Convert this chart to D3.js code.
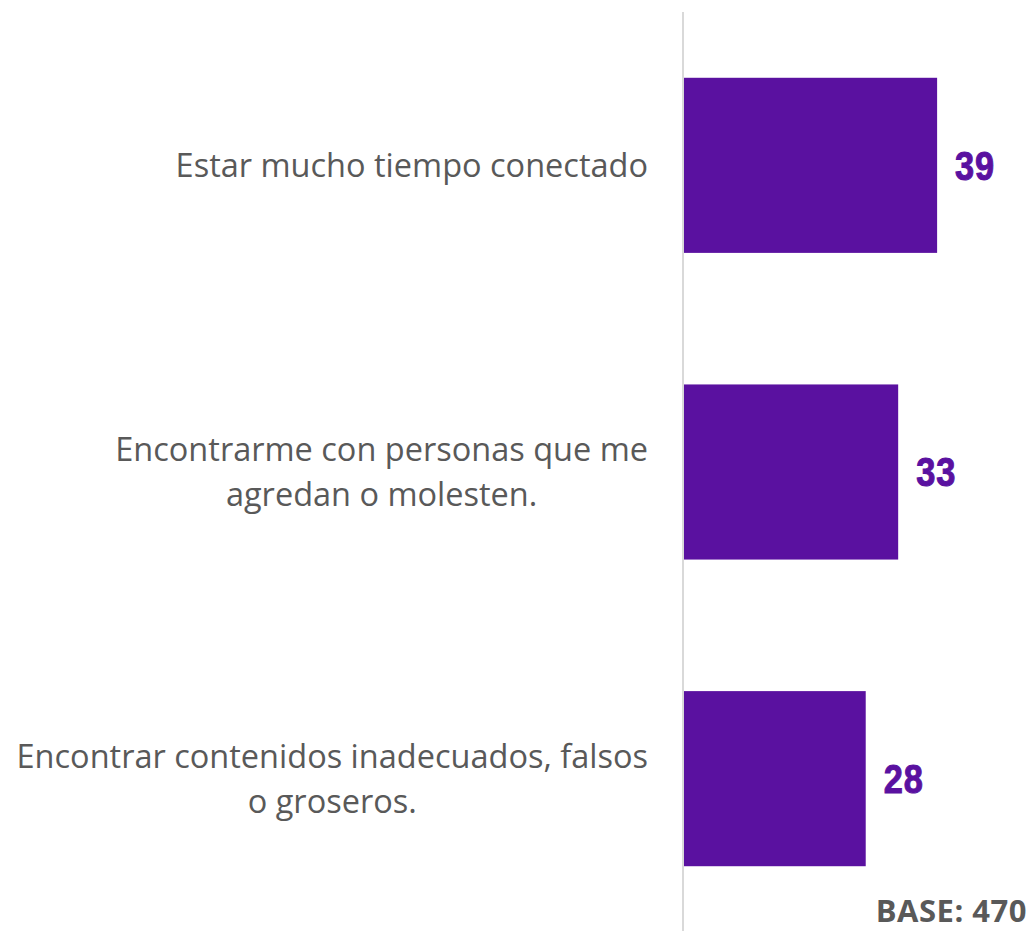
<!DOCTYPE html>
<html>
<head>
<meta charset="utf-8">
<script src="https://cdn.jsdelivr.net/npm/d3@7"></script>
<style>
  html, body { margin: 0; padding: 0; background: #ffffff; }
  svg { display: block; }
</style>
</head>
<body>
<svg id="chart" width="1031" height="931"></svg>
<script>
const categories = [
  "Estar mucho tiempo conectado",
  "Encontrarme con personas que me agredan o molesten.",
  "Encontrar contenidos inadecuados, falsos o groseros."
];
const categoryLines = [
  ["Estar mucho tiempo conectado"],
  ["Encontrarme con personas que me", "agredan o molesten."],
  ["Encontrar contenidos inadecuados, falsos", "o groseros."]
];
const values = [39, 33, 28];
const baseNote = "BASE: 470";

const svg = d3.select("#chart");
const W = 1031, H = 931;

const x = d3.scaleLinear().domain([0, 40]).range([684, 943.6]);
const y = d3.scaleBand().domain(categories).range([12, 932])
  .paddingInner(0.429).paddingOuter(0.2145);

// axis line
svg.append("line")
  .attr("x1", x(0) - 1).attr("x2", x(0) - 1)
  .attr("y1", 12).attr("y2", H)
  .attr("stroke", "#d9d9d9").attr("stroke-width", 2);

// bars
svg.selectAll("rect.bar").data(values).join("rect")
  .attr("class", "bar")
  .attr("x", x(0))
  .attr("y", (d, i) => y(categories[i]))
  .attr("width", d => x(d) - x(0))
  .attr("height", y.bandwidth())
  .attr("fill", "#5a11a0");

// value labels (heavy condensed look)
const vfs = 40;
svg.selectAll("text.val").data(values).join("text")
  .attr("class", "val")
  .attr("transform", (d, i) => `translate(${x(d) + 18},${y(categories[i]) + y.bandwidth() / 2 + vfs * 0.36}) scale(0.86,1)`)
  .attr("font-family", "'Liberation Sans', Arial, sans-serif")
  .attr("font-weight", "900")
  .attr("font-size", vfs)
  .attr("letter-spacing", 1)
  .attr("stroke", "#5a11a0")
  .attr("stroke-width", 1)
  .attr("fill", "#5a11a0")
  .text(d => d);

// category labels: block right-aligned at labelRight, lines centred within block
const lfs = 32.5, lh = 45, labelRight = 648;
categories.forEach((c, i) => {
  const lines = categoryLines[i];
  const cy = y(c) + y.bandwidth() / 2;
  const firstBase = cy + lfs * 0.36 - (lines.length - 1) * lh / 2;
  const t = svg.append("text")
    .attr("font-family", "'Open Sans', sans-serif")
    .attr("font-size", lfs)
    .attr("fill", "#595959")
    .attr("text-anchor", "middle");
  const spans = lines.map((ln, j) => t.append("tspan")
      .attr("y", firstBase + j * lh)
      .text(ln));
  const maxW = d3.max(spans, s => s.node().getComputedTextLength());
  spans.forEach(s => s.attr("x", labelRight - maxW / 2));
});

// BASE note
svg.append("text")
  .attr("x", 1027).attr("y", 922)
  .attr("text-anchor", "end")
  .attr("font-family", "'Open Sans', sans-serif")
  .attr("font-weight", "bold")
  .attr("font-size", 31)
  .attr("letter-spacing", 0.5)
  .attr("fill", "#595959")
  .text(baseNote);
</script>
</body>
</html>
